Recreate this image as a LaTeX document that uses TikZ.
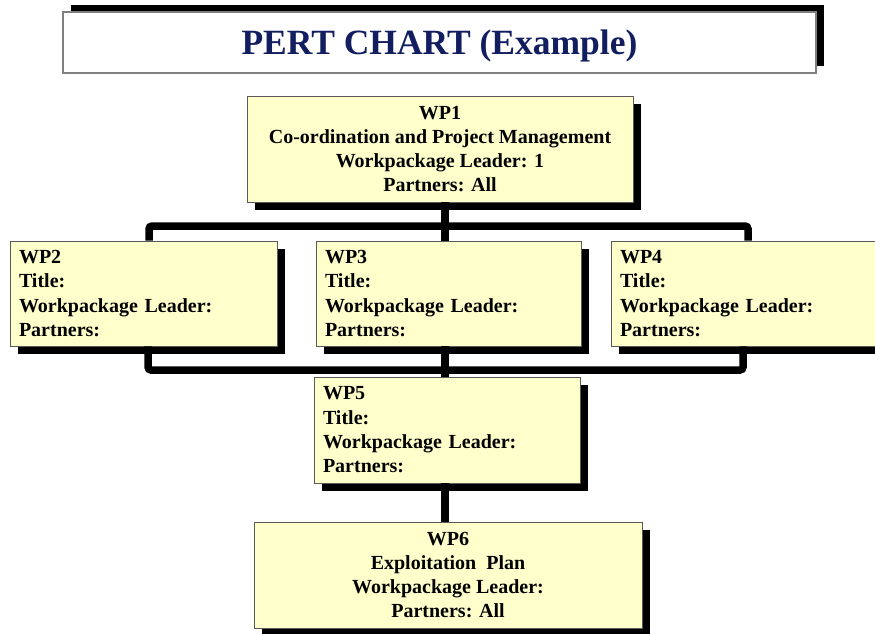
\documentclass[tikz,border=0pt]{standalone}
\usepackage{fontspec}
\setmainfont{Liberation Serif}
\usetikzlibrary{shadows}
\definecolor{navy}{RGB}{18,30,96}
\definecolor{wpyellow}{RGB}{255,255,204}
\definecolor{edgegray}{RGB}{90,90,90}
\begin{document}
\begin{tikzpicture}[x=1pt,y=-1pt,
  wpbox/.style={draw=edgegray, line width=0.8pt, fill=wpyellow, inner sep=0pt,
    minimum height=105pt, text=black,
    font=\fontsize{20}{24.3}\selectfont\bfseries,
    general shadow={fill=black, shadow xshift=7.5pt, shadow yshift=-7.5pt}},
  leftbox/.style={wpbox, inner xsep=9pt, align=left},
  centerbox/.style={wpbox, align=center, minimum height=106pt},
  titlebox/.style={draw=gray, line width=1.2pt, fill=white, inner sep=0pt,
    minimum width=753pt, minimum height=61pt, text=navy,
    font=\fontsize{35.5}{40}\selectfont\bfseries,
    general shadow={fill=black, shadow xshift=8pt, shadow yshift=7pt}},
  conn/.style={line width=7.5pt, black, rounded corners=3pt}
]
\useasboundingbox (0,0) rectangle (875,634);

\node[titlebox] (title) at (439.5,42.5) {\raisebox{-12.5pt}[0pt][0pt]{PERT CHART (Example)}};

\node[centerbox, minimum width=386pt] (wp1) at (440,149)
  {WP1\\Co-ordination and Project Management\\Workpackage Leader: 1\\Partners: All};

\node[leftbox, text width=249pt] (wp2) at (143.5,293.5)
  {WP2\\Title:\\Workpackage Leader:\\Partners:};
\node[leftbox, text width=247pt] (wp3) at (448.5,293.5)
  {WP3\\Title:\\Workpackage Leader:\\Partners:};
\node[leftbox, text width=249pt] (wp4) at (744.5,293.5)
  {WP4\\Title:\\Workpackage Leader:\\Partners:};

\node[leftbox, text width=248pt, minimum height=106pt] (wp5) at (447,430)
  {WP5\\Title:\\Workpackage Leader:\\Partners:};

\node[centerbox, minimum width=388pt] (wp6) at (448,575)
  {WP6\\Exploitation\ \ Plan\\Workpackage Leader:\\Partners: All};

\coordinate (cx) at (445,0);
\coordinate (lx) at (149,0);
\coordinate (rx) at (748,0);
\coordinate (lxb) at (148,0);
\coordinate (rxb) at (743,0);
\coordinate (topbar) at (0,226);
\coordinate (botbar) at (0,370);

\draw[conn] (wp2.north -| lx) -- (lx |- topbar) -- (rx |- topbar) -- (wp4.north -| rx);
\draw[conn] (wp1.south -| cx) -- (wp3.north -| cx);
\draw[conn] (wp2.south -| lxb) -- (lxb |- botbar) -- (rxb |- botbar) -- (wp4.south -| rxb);
\draw[conn] (wp3.south -| cx) -- (wp5.north -| cx);
\draw[conn] (wp5.south -| cx) -- (wp6.north -| cx);
\end{tikzpicture}
\end{document}
